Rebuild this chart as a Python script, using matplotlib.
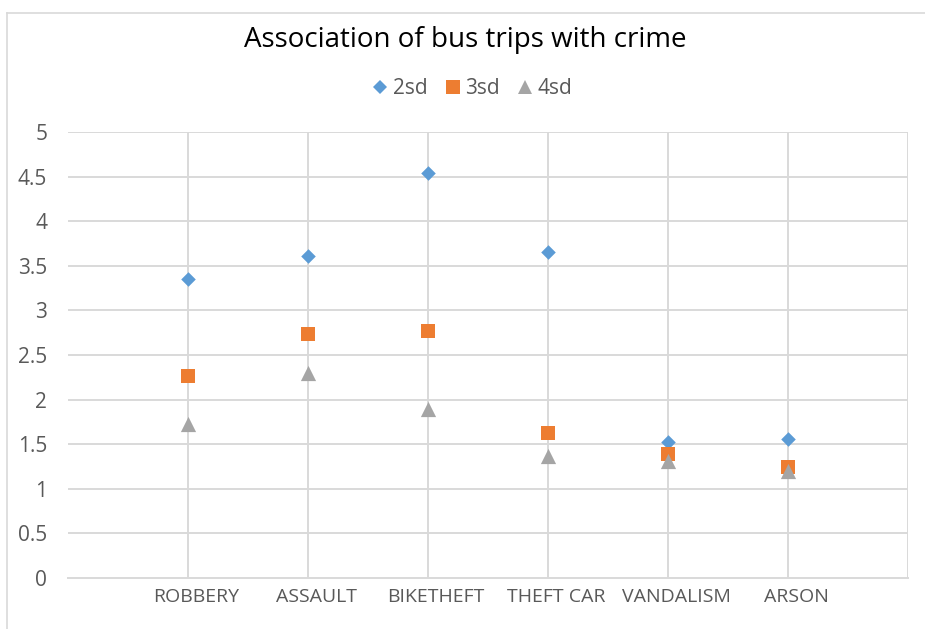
import matplotlib
matplotlib.use("Agg")
import matplotlib.pyplot as plt
from matplotlib.lines import Line2D
from matplotlib.transforms import ScaledTranslation

categories = ["ROBBERY", "ASSAULT", "BIKETHEFT", "THEFT CAR", "VANDALISM", "ARSON"]
sd2 = [3.35, 3.61, 4.54, 3.65, 1.52, 1.56]
sd3 = [2.26, 2.74, 2.77, 1.63, 1.39, 1.25]
sd4 = [1.73, 2.30, 1.89, 1.37, 1.31, 1.20]
yticks = [0, 0.5, 1, 1.5, 2, 2.5, 3, 3.5, 4, 4.5, 5]
ytick_labels = ["0", "0.5", "1", "1.5", "2", "2.5", "3", "3.5", "4", "4.5", "5"]

plt.rcParams['font.family'] = ['Open Sans', 'DejaVu Sans']

W, H = 925, 629
fig = plt.figure(figsize=(W / 100, H / 100), dpi=100)
ax = fig.add_axes([68 / W, 1 - 578 / H, (908 - 68) / W, (578 - 132) / H])

xs = list(range(1, len(categories) + 1))
grid_c = "#D9D9D9"
ax.set_xlim(0, 7)
ax.set_ylim(0, 5)
for x in range(1, 8):
    ax.axvline(x, color=grid_c, lw=1.4, zorder=0)
for y in yticks[1:]:
    ax.axhline(y, color=grid_c, lw=1.4, zorder=0)

ax.scatter(xs, sd2, marker="D", s=55, color="#5B9BD5", zorder=3, linewidths=0)
ax.scatter(xs, sd3, marker="s", s=110, color="#ED7D31", zorder=3, linewidths=0)
ax.scatter(xs, sd4, marker="^", s=120, color="#A5A5A5", zorder=4, linewidths=0)

for s in ["top", "right", "left"]:
    ax.spines[s].set_visible(False)
ax.spines["bottom"].set_color(grid_c)
ax.spines["bottom"].set_linewidth(1.4)

ax.set_yticks(yticks)
ax.set_yticklabels(ytick_labels)
ax.set_xticks(xs)
ax.set_xticklabels(categories)
ax.tick_params(axis="both", length=0, colors="#595959")
ax.tick_params(axis="y", pad=15, labelsize=15)
ax.tick_params(axis="x", pad=7, labelsize=14)
shift = ScaledTranslation(8 / 100, 0, fig.dpi_scale_trans)
for lab in ax.get_xticklabels():
    lab.set_transform(lab.get_transform() + shift)

fig.text(465 / W, 1 - 40 / H, "Association of bus trips with crime", ha="center", va="center",
         fontsize=20, color="#000000")

handles = [
    Line2D([], [], marker="D", ls="", color="#5B9BD5", markersize=7, markeredgewidth=0),
    Line2D([], [], marker="s", ls="", color="#ED7D31", markersize=10, markeredgewidth=0),
    Line2D([], [], marker="^", ls="", color="#A5A5A5", markersize=10, markeredgewidth=0),
]
leg = fig.legend(handles, ["2sd", "3sd", "4sd"], loc="center", bbox_to_anchor=(470 / W, 1 - 89 / H),
                 ncol=3, frameon=False, fontsize=15, handletextpad=0.0, columnspacing=0.6,
                 handlelength=1.2)
for t in leg.get_texts():
    t.set_color("#595959")

# chart border
fig.add_artist(Line2D([7 / W, 7 / W], [0, 1 - 13 / H], color=grid_c, lw=1.2))
fig.add_artist(Line2D([7 / W, 1], [1 - 13 / H, 1 - 13 / H], color=grid_c, lw=1.2))

fig.savefig("out.png", dpi=100)
